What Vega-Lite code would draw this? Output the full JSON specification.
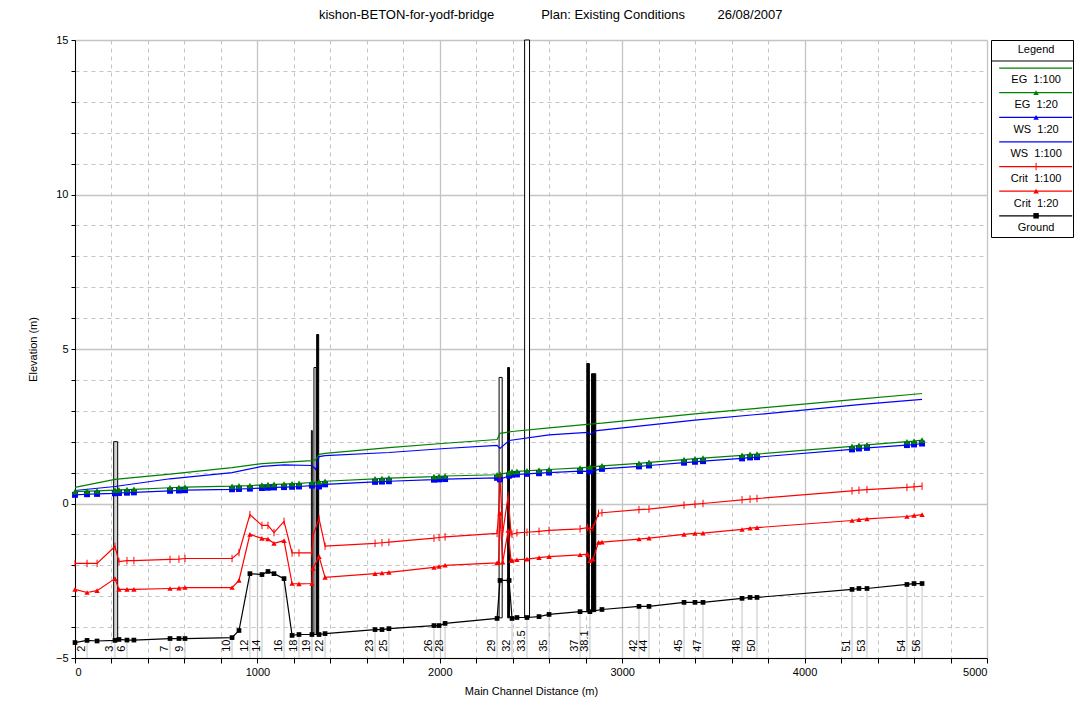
{
  "$schema": "https://vega.github.io/schema/vega-lite/v6.json",
  "padding": {"left": 27, "top": 9, "right": 3, "bottom": 5},
  "title": {"text": "kishon-BETON-for-yodf-bridge\u00a0\u00a0\u00a0\u00a0\u00a0\u00a0\u00a0\u00a0\u00a0\u00a0\u00a0\u00a0\u00a0Plan: Existing Conditions\u00a0\u00a0\u00a0\u00a0\u00a0\u00a0\u00a0\u00a0\u00a026/08/2007", "anchor": "middle", "offset": 12, "fontSize": 13, "fontWeight": "normal", "color": "black", "font": "Liberation Sans"},
  "config": {
    "font": "Liberation Sans",
    "view": {"stroke": null},
    "axis": {"domainColor": "black", "tickColor": "black", "labelColor": "black", "titleColor": "black", "labelFontSize": 11, "titleFontSize": 11, "titleFontWeight": "normal", "labelFont": "Liberation Sans", "titleFont": "Liberation Sans"}
  },
  "spacing": 4,
  "bounds": "flush",
  "resolve": {"scale": {"x": "independent", "y": "independent", "color": "independent", "shape": "independent", "fill": "independent", "size": "independent"}},
  "datasets": {
    "series": [
      {"dist":0,"series":"Ground","elev":-4.50},{"dist":66,"series":"Ground","elev":-4.43},{"dist":121,"series":"Ground","elev":-4.45},{"dist":219,"series":"Ground","elev":-4.43},{"dist":241,"series":"Ground","elev":-4.40},{"dist":285,"series":"Ground","elev":-4.42},{"dist":323,"series":"Ground","elev":-4.42},{"dist":521,"series":"Ground","elev":-4.37},{"dist":570,"series":"Ground","elev":-4.37},{"dist":603,"series":"Ground","elev":-4.37},{"dist":861,"series":"Ground","elev":-4.34},{"dist":899,"series":"Ground","elev":-4.11},{"dist":959,"series":"Ground","elev":-2.27},{"dist":1025,"series":"Ground","elev":-2.30},{"dist":1058,"series":"Ground","elev":-2.20},{"dist":1091,"series":"Ground","elev":-2.27},{"dist":1146,"series":"Ground","elev":-2.43},{"dist":1190,"series":"Ground","elev":-4.27},{"dist":1228,"series":"Ground","elev":-4.24},{"dist":1299,"series":"Ground","elev":-4.24},{"dist":1338,"series":"Ground","elev":-4.24},{"dist":1371,"series":"Ground","elev":-4.21},{"dist":1645,"series":"Ground","elev":-4.08},{"dist":1683,"series":"Ground","elev":-4.08},{"dist":1721,"series":"Ground","elev":-4.05},{"dist":1968,"series":"Ground","elev":-3.95},{"dist":1996,"series":"Ground","elev":-3.95},{"dist":2029,"series":"Ground","elev":-3.88},{"dist":2314,"series":"Ground","elev":-3.72},{"dist":2330,"series":"Ground","elev":-2.49},{"dist":2380,"series":"Ground","elev":-2.49},{"dist":2396,"series":"Ground","elev":-3.72},{"dist":2423,"series":"Ground","elev":-3.69},{"dist":2478,"series":"Ground","elev":-3.69},{"dist":2544,"series":"Ground","elev":-3.66},{"dist":2599,"series":"Ground","elev":-3.59},{"dist":2769,"series":"Ground","elev":-3.50},{"dist":2823,"series":"Ground","elev":-3.50},{"dist":2889,"series":"Ground","elev":-3.43},{"dist":3092,"series":"Ground","elev":-3.33},{"dist":3147,"series":"Ground","elev":-3.33},{"dist":3339,"series":"Ground","elev":-3.20},{"dist":3399,"series":"Ground","elev":-3.20},{"dist":3443,"series":"Ground","elev":-3.20},{"dist":3657,"series":"Ground","elev":-3.07},{"dist":3701,"series":"Ground","elev":-3.04},{"dist":3739,"series":"Ground","elev":-3.04},{"dist":4260,"series":"Ground","elev":-2.78},{"dist":4298,"series":"Ground","elev":-2.75},{"dist":4342,"series":"Ground","elev":-2.75},{"dist":4561,"series":"Ground","elev":-2.62},{"dist":4600,"series":"Ground","elev":-2.59},{"dist":4644,"series":"Ground","elev":-2.59},

      {"dist":0,"series":"EG 1:100","elev":0.52},{"dist":219,"series":"EG 1:100","elev":0.78},{"dist":521,"series":"EG 1:100","elev":0.95},{"dist":861,"series":"EG 1:100","elev":1.16},{"dist":1025,"series":"EG 1:100","elev":1.29},{"dist":1299,"series":"EG 1:100","elev":1.39},{"dist":1320,"series":"EG 1:100","elev":1.42},{"dist":1338,"series":"EG 1:100","elev":1.59},{"dist":1371,"series":"EG 1:100","elev":1.62},{"dist":1721,"series":"EG 1:100","elev":1.81},{"dist":2029,"series":"EG 1:100","elev":1.95},{"dist":2314,"series":"EG 1:100","elev":2.07},{"dist":2330,"series":"EG 1:100","elev":2.27},{"dist":2396,"series":"EG 1:100","elev":2.33},{"dist":2599,"series":"EG 1:100","elev":2.45},{"dist":2823,"series":"EG 1:100","elev":2.57},{"dist":2889,"series":"EG 1:100","elev":2.60},{"dist":3399,"series":"EG 1:100","elev":2.90},{"dist":3739,"series":"EG 1:100","elev":3.08},{"dist":4298,"series":"EG 1:100","elev":3.38},{"dist":4644,"series":"EG 1:100","elev":3.56},

      {"dist":0,"series":"WS 1:100","elev":0.42},{"dist":219,"series":"WS 1:100","elev":0.55},{"dist":521,"series":"WS 1:100","elev":0.80},{"dist":861,"series":"WS 1:100","elev":1.00},{"dist":1025,"series":"WS 1:100","elev":1.20},{"dist":1146,"series":"WS 1:100","elev":1.25},{"dist":1299,"series":"WS 1:100","elev":1.23},{"dist":1320,"series":"WS 1:100","elev":1.10},{"dist":1338,"series":"WS 1:100","elev":1.52},{"dist":1371,"series":"WS 1:100","elev":1.55},{"dist":1721,"series":"WS 1:100","elev":1.65},{"dist":2029,"series":"WS 1:100","elev":1.78},{"dist":2314,"series":"WS 1:100","elev":1.88},{"dist":2330,"series":"WS 1:100","elev":1.78},{"dist":2380,"series":"WS 1:100","elev":2.04},{"dist":2599,"series":"WS 1:100","elev":2.22},{"dist":2810,"series":"WS 1:100","elev":2.30},{"dist":2823,"series":"WS 1:100","elev":2.23},{"dist":2862,"series":"WS 1:100","elev":2.36},{"dist":3399,"series":"WS 1:100","elev":2.70},{"dist":3739,"series":"WS 1:100","elev":2.88},{"dist":4298,"series":"WS 1:100","elev":3.20},{"dist":4644,"series":"WS 1:100","elev":3.37},

      {"dist":0,"series":"WS 1:20","elev":0.28},{"dist":66,"series":"WS 1:20","elev":0.30},{"dist":121,"series":"WS 1:20","elev":0.31},{"dist":219,"series":"WS 1:20","elev":0.33},{"dist":241,"series":"WS 1:20","elev":0.34},{"dist":285,"series":"WS 1:20","elev":0.35},{"dist":323,"series":"WS 1:20","elev":0.36},{"dist":521,"series":"WS 1:20","elev":0.41},{"dist":570,"series":"WS 1:20","elev":0.42},{"dist":603,"series":"WS 1:20","elev":0.43},{"dist":861,"series":"WS 1:20","elev":0.46},{"dist":899,"series":"WS 1:20","elev":0.47},{"dist":959,"series":"WS 1:20","elev":0.48},{"dist":1025,"series":"WS 1:20","elev":0.50},{"dist":1058,"series":"WS 1:20","elev":0.51},{"dist":1091,"series":"WS 1:20","elev":0.52},{"dist":1146,"series":"WS 1:20","elev":0.53},{"dist":1190,"series":"WS 1:20","elev":0.54},{"dist":1228,"series":"WS 1:20","elev":0.55},{"dist":1299,"series":"WS 1:20","elev":0.58},{"dist":1338,"series":"WS 1:20","elev":0.55},{"dist":1371,"series":"WS 1:20","elev":0.62},{"dist":1645,"series":"WS 1:20","elev":0.70},{"dist":1683,"series":"WS 1:20","elev":0.71},{"dist":1721,"series":"WS 1:20","elev":0.72},{"dist":1968,"series":"WS 1:20","elev":0.77},{"dist":1996,"series":"WS 1:20","elev":0.78},{"dist":2029,"series":"WS 1:20","elev":0.79},{"dist":2314,"series":"WS 1:20","elev":0.83},{"dist":2330,"series":"WS 1:20","elev":0.78},{"dist":2380,"series":"WS 1:20","elev":0.90},{"dist":2396,"series":"WS 1:20","elev":0.93},{"dist":2423,"series":"WS 1:20","elev":0.94},{"dist":2478,"series":"WS 1:20","elev":0.96},{"dist":2544,"series":"WS 1:20","elev":0.98},{"dist":2599,"series":"WS 1:20","elev":1.00},{"dist":2769,"series":"WS 1:20","elev":1.05},{"dist":2823,"series":"WS 1:20","elev":1.04},{"dist":2889,"series":"WS 1:20","elev":1.12},{"dist":3092,"series":"WS 1:20","elev":1.20},{"dist":3147,"series":"WS 1:20","elev":1.23},{"dist":3339,"series":"WS 1:20","elev":1.32},{"dist":3399,"series":"WS 1:20","elev":1.35},{"dist":3443,"series":"WS 1:20","elev":1.37},{"dist":3657,"series":"WS 1:20","elev":1.46},{"dist":3701,"series":"WS 1:20","elev":1.49},{"dist":3739,"series":"WS 1:20","elev":1.50},{"dist":4260,"series":"WS 1:20","elev":1.75},{"dist":4298,"series":"WS 1:20","elev":1.78},{"dist":4342,"series":"WS 1:20","elev":1.80},{"dist":4561,"series":"WS 1:20","elev":1.89},{"dist":4600,"series":"WS 1:20","elev":1.91},{"dist":4644,"series":"WS 1:20","elev":1.94},

      {"dist":0,"series":"EG 1:20","elev":0.38},{"dist":66,"series":"EG 1:20","elev":0.40},{"dist":121,"series":"EG 1:20","elev":0.41},{"dist":219,"series":"EG 1:20","elev":0.43},{"dist":241,"series":"EG 1:20","elev":0.44},{"dist":285,"series":"EG 1:20","elev":0.45},{"dist":323,"series":"EG 1:20","elev":0.46},{"dist":521,"series":"EG 1:20","elev":0.51},{"dist":570,"series":"EG 1:20","elev":0.52},{"dist":603,"series":"EG 1:20","elev":0.53},{"dist":861,"series":"EG 1:20","elev":0.56},{"dist":899,"series":"EG 1:20","elev":0.57},{"dist":959,"series":"EG 1:20","elev":0.58},{"dist":1025,"series":"EG 1:20","elev":0.60},{"dist":1058,"series":"EG 1:20","elev":0.61},{"dist":1091,"series":"EG 1:20","elev":0.62},{"dist":1146,"series":"EG 1:20","elev":0.63},{"dist":1190,"series":"EG 1:20","elev":0.64},{"dist":1228,"series":"EG 1:20","elev":0.65},{"dist":1299,"series":"EG 1:20","elev":0.68},{"dist":1338,"series":"EG 1:20","elev":0.70},{"dist":1371,"series":"EG 1:20","elev":0.72},{"dist":1645,"series":"EG 1:20","elev":0.80},{"dist":1683,"series":"EG 1:20","elev":0.81},{"dist":1721,"series":"EG 1:20","elev":0.82},{"dist":1968,"series":"EG 1:20","elev":0.87},{"dist":1996,"series":"EG 1:20","elev":0.88},{"dist":2029,"series":"EG 1:20","elev":0.89},{"dist":2314,"series":"EG 1:20","elev":0.93},{"dist":2330,"series":"EG 1:20","elev":0.95},{"dist":2380,"series":"EG 1:20","elev":1.00},{"dist":2396,"series":"EG 1:20","elev":1.03},{"dist":2423,"series":"EG 1:20","elev":1.04},{"dist":2478,"series":"EG 1:20","elev":1.06},{"dist":2544,"series":"EG 1:20","elev":1.08},{"dist":2599,"series":"EG 1:20","elev":1.10},{"dist":2769,"series":"EG 1:20","elev":1.15},{"dist":2823,"series":"EG 1:20","elev":1.18},{"dist":2889,"series":"EG 1:20","elev":1.22},{"dist":3092,"series":"EG 1:20","elev":1.30},{"dist":3147,"series":"EG 1:20","elev":1.33},{"dist":3339,"series":"EG 1:20","elev":1.42},{"dist":3399,"series":"EG 1:20","elev":1.45},{"dist":3443,"series":"EG 1:20","elev":1.47},{"dist":3657,"series":"EG 1:20","elev":1.56},{"dist":3701,"series":"EG 1:20","elev":1.59},{"dist":3739,"series":"EG 1:20","elev":1.60},{"dist":4260,"series":"EG 1:20","elev":1.85},{"dist":4298,"series":"EG 1:20","elev":1.88},{"dist":4342,"series":"EG 1:20","elev":1.90},{"dist":4561,"series":"EG 1:20","elev":2.00},{"dist":4600,"series":"EG 1:20","elev":2.02},{"dist":4644,"series":"EG 1:20","elev":2.05},

      {"dist":0,"series":"Crit 1:100","elev":-1.94},{"dist":66,"series":"Crit 1:100","elev":-1.94},{"dist":121,"series":"Crit 1:100","elev":-1.94},{"dist":219,"series":"Crit 1:100","elev":-1.39},{"dist":241,"series":"Crit 1:100","elev":-1.88},{"dist":285,"series":"Crit 1:100","elev":-1.85},{"dist":323,"series":"Crit 1:100","elev":-1.85},{"dist":521,"series":"Crit 1:100","elev":-1.81},{"dist":570,"series":"Crit 1:100","elev":-1.80},{"dist":603,"series":"Crit 1:100","elev":-1.78},{"dist":861,"series":"Crit 1:100","elev":-1.78},{"dist":899,"series":"Crit 1:100","elev":-1.59},{"dist":959,"series":"Crit 1:100","elev":-0.36},{"dist":1025,"series":"Crit 1:100","elev":-0.71},{"dist":1058,"series":"Crit 1:100","elev":-0.71},{"dist":1091,"series":"Crit 1:100","elev":-0.94},{"dist":1146,"series":"Crit 1:100","elev":-0.58},{"dist":1190,"series":"Crit 1:100","elev":-1.60},{"dist":1228,"series":"Crit 1:100","elev":-1.60},{"dist":1299,"series":"Crit 1:100","elev":-1.60},{"dist":1305,"series":"Crit 1:100","elev":-1.04},{"dist":1338,"series":"Crit 1:100","elev":-0.49},{"dist":1371,"series":"Crit 1:100","elev":-1.38},{"dist":1645,"series":"Crit 1:100","elev":-1.29},{"dist":1683,"series":"Crit 1:100","elev":-1.27},{"dist":1721,"series":"Crit 1:100","elev":-1.25},{"dist":1968,"series":"Crit 1:100","elev":-1.12},{"dist":1996,"series":"Crit 1:100","elev":-1.10},{"dist":2029,"series":"Crit 1:100","elev":-1.08},{"dist":2314,"series":"Crit 1:100","elev":-0.97},{"dist":2322,"series":"Crit 1:100","elev":-0.30},{"dist":2330,"series":"Crit 1:100","elev":0.84},{"dist":2345,"series":"Crit 1:100","elev":-0.95},{"dist":2375,"series":"Crit 1:100","elev":0.26},{"dist":2390,"series":"Crit 1:100","elev":-0.95},{"dist":2396,"series":"Crit 1:100","elev":-1.00},{"dist":2423,"series":"Crit 1:100","elev":-0.95},{"dist":2478,"series":"Crit 1:100","elev":-0.93},{"dist":2544,"series":"Crit 1:100","elev":-0.90},{"dist":2599,"series":"Crit 1:100","elev":-0.87},{"dist":2769,"series":"Crit 1:100","elev":-0.82},{"dist":2810,"series":"Crit 1:100","elev":-0.78},{"dist":2823,"series":"Crit 1:100","elev":-0.85},{"dist":2840,"series":"Crit 1:100","elev":-0.78},{"dist":2870,"series":"Crit 1:100","elev":-0.32},{"dist":2889,"series":"Crit 1:100","elev":-0.30},{"dist":3092,"series":"Crit 1:100","elev":-0.20},{"dist":3147,"series":"Crit 1:100","elev":-0.18},{"dist":3339,"series":"Crit 1:100","elev":-0.05},{"dist":3399,"series":"Crit 1:100","elev":-0.02},{"dist":3443,"series":"Crit 1:100","elev":0.00},{"dist":3657,"series":"Crit 1:100","elev":0.12},{"dist":3701,"series":"Crit 1:100","elev":0.14},{"dist":3739,"series":"Crit 1:100","elev":0.16},{"dist":4260,"series":"Crit 1:100","elev":0.41},{"dist":4298,"series":"Crit 1:100","elev":0.43},{"dist":4342,"series":"Crit 1:100","elev":0.45},{"dist":4561,"series":"Crit 1:100","elev":0.52},{"dist":4600,"series":"Crit 1:100","elev":0.54},{"dist":4644,"series":"Crit 1:100","elev":0.56},

      {"dist":0,"series":"Crit 1:20","elev":-2.78},{"dist":66,"series":"Crit 1:20","elev":-2.88},{"dist":121,"series":"Crit 1:20","elev":-2.82},{"dist":219,"series":"Crit 1:20","elev":-2.43},{"dist":241,"series":"Crit 1:20","elev":-2.78},{"dist":285,"series":"Crit 1:20","elev":-2.78},{"dist":323,"series":"Crit 1:20","elev":-2.78},{"dist":521,"series":"Crit 1:20","elev":-2.75},{"dist":570,"series":"Crit 1:20","elev":-2.74},{"dist":603,"series":"Crit 1:20","elev":-2.72},{"dist":861,"series":"Crit 1:20","elev":-2.72},{"dist":899,"series":"Crit 1:20","elev":-2.49},{"dist":959,"series":"Crit 1:20","elev":-1.00},{"dist":1025,"series":"Crit 1:20","elev":-1.13},{"dist":1058,"series":"Crit 1:20","elev":-1.15},{"dist":1091,"series":"Crit 1:20","elev":-1.29},{"dist":1146,"series":"Crit 1:20","elev":-1.20},{"dist":1190,"series":"Crit 1:20","elev":-2.59},{"dist":1228,"series":"Crit 1:20","elev":-2.60},{"dist":1299,"series":"Crit 1:20","elev":-2.59},{"dist":1305,"series":"Crit 1:20","elev":-2.10},{"dist":1338,"series":"Crit 1:20","elev":-1.72},{"dist":1371,"series":"Crit 1:20","elev":-2.39},{"dist":1645,"series":"Crit 1:20","elev":-2.27},{"dist":1683,"series":"Crit 1:20","elev":-2.25},{"dist":1721,"series":"Crit 1:20","elev":-2.23},{"dist":1968,"series":"Crit 1:20","elev":-2.07},{"dist":1996,"series":"Crit 1:20","elev":-2.04},{"dist":2029,"series":"Crit 1:20","elev":-2.00},{"dist":2314,"series":"Crit 1:20","elev":-1.92},{"dist":2322,"series":"Crit 1:20","elev":-1.90},{"dist":2330,"series":"Crit 1:20","elev":-0.32},{"dist":2345,"series":"Crit 1:20","elev":-1.90},{"dist":2375,"series":"Crit 1:20","elev":-0.87},{"dist":2390,"series":"Crit 1:20","elev":-1.84},{"dist":2396,"series":"Crit 1:20","elev":-1.84},{"dist":2423,"series":"Crit 1:20","elev":-1.82},{"dist":2478,"series":"Crit 1:20","elev":-1.80},{"dist":2544,"series":"Crit 1:20","elev":-1.75},{"dist":2599,"series":"Crit 1:20","elev":-1.72},{"dist":2769,"series":"Crit 1:20","elev":-1.66},{"dist":2810,"series":"Crit 1:20","elev":-1.64},{"dist":2823,"series":"Crit 1:20","elev":-1.85},{"dist":2840,"series":"Crit 1:20","elev":-1.80},{"dist":2870,"series":"Crit 1:20","elev":-1.26},{"dist":2889,"series":"Crit 1:20","elev":-1.25},{"dist":3092,"series":"Crit 1:20","elev":-1.15},{"dist":3147,"series":"Crit 1:20","elev":-1.12},{"dist":3339,"series":"Crit 1:20","elev":-1.00},{"dist":3399,"series":"Crit 1:20","elev":-0.97},{"dist":3443,"series":"Crit 1:20","elev":-0.96},{"dist":3657,"series":"Crit 1:20","elev":-0.84},{"dist":3701,"series":"Crit 1:20","elev":-0.80},{"dist":3739,"series":"Crit 1:20","elev":-0.78},{"dist":4260,"series":"Crit 1:20","elev":-0.55},{"dist":4298,"series":"Crit 1:20","elev":-0.52},{"dist":4342,"series":"Crit 1:20","elev":-0.50},{"dist":4561,"series":"Crit 1:20","elev":-0.42},{"dist":4600,"series":"Crit 1:20","elev":-0.39},{"dist":4644,"series":"Crit 1:20","elev":-0.36}
    ],
    "structures": [
      {"dist":212,"dist2":234,"elev":2.0,"base":-4.43,"kind":"gray"},
      {"dist":1296,"dist2":1301,"elev":2.36,"base":-4.24,"kind":"open"},
      {"dist":1310,"dist2":1322,"elev":4.4,"base":-4.24,"kind":"open"},
      {"dist":1325,"dist2":1336,"elev":5.47,"base":-4.24,"kind":"solid"},
      {"dist":2325,"dist2":2342,"elev":4.08,"base":-3.7,"kind":"open"},
      {"dist":2372,"dist2":2382,"elev":4.4,"base":-3.7,"kind":"solid"},
      {"dist":2465,"dist2":2492,"elev":15,"base":-3.69,"kind":"open"},
      {"dist":2806,"dist2":2820,"elev":4.53,"base":-3.5,"kind":"solid"},
      {"dist":2832,"dist2":2855,"elev":4.2,"base":-3.5,"kind":"solid"}
    ],
    "stations": [
      {"label":"2","dist":66,"elev":-4.43},{"label":"3","dist":219,"elev":-4.43},{"label":"6","dist":285,"elev":-4.42},{"label":"7","dist":521,"elev":-4.37},{"label":"9","dist":603,"elev":-4.37},{"label":"10","dist":861,"elev":-4.34},{"label":"12","dist":959,"elev":-2.27},{"label":"14","dist":1025,"elev":-2.30},{"label":"16","dist":1146,"elev":-2.43},{"label":"18","dist":1228,"elev":-4.24},{"label":"19","dist":1299,"elev":-4.24},{"label":"22","dist":1371,"elev":-4.21},{"label":"23","dist":1645,"elev":-4.08},{"label":"25","dist":1721,"elev":-4.05},{"label":"26","dist":1968,"elev":-3.95},{"label":"28","dist":2029,"elev":-3.88},{"label":"29","dist":2314,"elev":-3.72},{"label":"32","dist":2396,"elev":-3.72},{"label":"33.5","dist":2478,"elev":-3.69},{"label":"35","dist":2599,"elev":-3.59},{"label":"37","dist":2769,"elev":-3.50},{"label":"38.1","dist":2823,"elev":-3.50},{"label":"42","dist":3092,"elev":-3.33},{"label":"44","dist":3147,"elev":-3.33},{"label":"45","dist":3339,"elev":-3.20},{"label":"47","dist":3443,"elev":-3.20},{"label":"48","dist":3657,"elev":-3.07},{"label":"50","dist":3739,"elev":-3.04},{"label":"51","dist":4260,"elev":-2.78},{"label":"53","dist":4342,"elev":-2.75},{"label":"54","dist":4561,"elev":-2.62},{"label":"56","dist":4644,"elev":-2.59}
    ],
    "legend": [
      {"item":"Legend"},{"item":"EG\u00a0\u00a01:100"},{"item":"EG\u00a0\u00a01:20"},{"item":"WS\u00a0\u00a01:20"},{"item":"WS\u00a0\u00a01:100"},{"item":"Crit\u00a0\u00a01:100"},{"item":"Crit\u00a0\u00a01:20"},{"item":"Ground"}
    ]
  },
  "hconcat": [
    {
      "width": 912,
      "height": 618,
      "resolve": {"axis": {"x": "independent", "y": "independent"}},
      "layer": [
        {
          "data": {"name": "stations"},
          "mark": {"type": "rule", "color": "#c4c4c4", "strokeWidth": 1},
          "encoding": {
            "x": {"field": "dist", "type": "quantitative", "scale": {"domain": [0, 5000], "nice": false},
              "axis": {"orient": "bottom", "title": null, "labels": false, "domain": false, "values": [200,400,600,800,1200,1400,1600,1800,2200,2400,2600,2800,3200,3400,3600,3800,4200,4400,4600,4800], "grid": true, "gridColor": "#c4c4c4", "gridDash": [4, 4], "tickSize": 5}},
            "y": {"field": "elev", "type": "quantitative", "scale": {"domain": [-5, 15], "nice": false},
              "axis": {"orient": "left", "title": null, "labels": false, "domain": false, "values": [-4,-3,-2,-1,1,2,3,4,6,7,8,9,11,12,13,14], "grid": true, "gridColor": "#c4c4c4", "gridDash": [4, 4], "tickSize": 4}},
            "y2": {"datum": -5}
          }
        },
        {
          "data": {"name": "structures"},
          "mark": {"type": "rect", "stroke": "black", "strokeWidth": 1},
          "encoding": {
            "x": {"field": "dist", "type": "quantitative", "axis": null},
            "x2": {"field": "dist2"},
            "y": {"field": "elev", "type": "quantitative", "axis": null},
            "y2": {"field": "base"},
            "fill": {"field": "kind", "type": "nominal", "scale": {"domain": ["solid", "open", "gray"], "range": ["black", "white", "#d4d4d4"]}, "legend": null}
          }
        },
        {
          "data": {"name": "series"},
          "mark": {"type": "line", "strokeWidth": 1.2},
          "encoding": {
            "x": {"field": "dist", "type": "quantitative",
              "axis": {"orient": "bottom", "title": "Main Channel Distance (m)", "values": [0,1000,2000,3000,4000,5000], "format": "d", "grid": true, "gridColor": "#c4c4c4", "gridWidth": 1.3, "tickSize": 5, "labelPadding": 3, "titlePadding": 8}},
            "y": {"field": "elev", "type": "quantitative",
              "axis": {"orient": "left", "title": "Elevation (m)", "values": [-5,0,5,10,15], "grid": true, "gridColor": "#c4c4c4", "gridWidth": 1.3, "tickSize": 4, "labelPadding": 3, "titlePadding": 17}},
            "color": {"field": "series", "type": "nominal", "scale": {"domain": ["EG 1:100", "EG 1:20", "WS 1:20", "WS 1:100", "Crit 1:100", "Crit 1:20", "Ground"], "range": ["#008000", "#008000", "#0000ff", "#0000ff", "#ff0000", "#ff0000", "#000000"]}, "legend": null}
          }
        },
        {
          "data": {"name": "series"},
          "transform": [{"filter": {"field": "series", "oneOf": ["EG 1:20", "WS 1:20", "Crit 1:20", "Ground"]}}],
          "mark": {"type": "point", "filled": true, "opacity": 1},
          "encoding": {
            "x": {"field": "dist", "type": "quantitative", "axis": null},
            "y": {"field": "elev", "type": "quantitative", "axis": null},
            "color": {"field": "series", "type": "nominal", "legend": null},
            "shape": {"field": "series", "type": "nominal", "scale": {"domain": ["EG 1:20", "WS 1:20", "Crit 1:20", "Ground"], "range": ["triangle-up", "square", "triangle-up", "square"]}, "legend": null},
            "size": {"field": "series", "type": "nominal", "scale": {"domain": ["EG 1:20", "WS 1:20", "Crit 1:20", "Ground"], "range": [42, 22, 40, 36]}, "legend": null}
          }
        },
        {
          "data": {"name": "series"},
          "transform": [{"filter": {"field": "series", "equal": "Crit 1:100"}}],
          "mark": {"type": "point", "filled": false, "opacity": 1, "size": 56, "strokeWidth": 1, "shape": "M0,-1L0,1"},
          "encoding": {
            "x": {"field": "dist", "type": "quantitative", "axis": null},
            "y": {"field": "elev", "type": "quantitative", "axis": null},
            "color": {"field": "series", "type": "nominal", "legend": null}
          }
        },
        {
          "data": {"name": "stations"},
          "mark": {"type": "text", "angle": 270, "align": "left", "baseline": "bottom", "fontSize": 11, "color": "black"},
          "encoding": {
            "x": {"field": "dist", "type": "quantitative", "axis": null},
            "y": {"datum": -4.8, "type": "quantitative", "axis": null},
            "text": {"field": "label"}
          }
        }
      ]
    },
    {
      "width": 82,
      "height": 197,
      "view": {"stroke": "black", "strokeWidth": 1},
      "data": {"name": "legend"},
      "encoding": {
        "y": {"field": "item", "type": "nominal", "scale": {"type": "point", "padding": 0.5, "domain": ["Legend", "EG\u00a0\u00a01:100", "EG\u00a0\u00a01:20", "WS\u00a0\u00a01:20", "WS\u00a0\u00a01:100", "Crit\u00a0\u00a01:100", "Crit\u00a0\u00a01:20", "Ground"]}, "axis": null}
      },
      "layer": [
        {
          "transform": [{"filter": {"field": "item", "equal": "Legend"}}],
          "mark": {"type": "text", "fontSize": 11, "color": "black", "yOffset": -2},
          "encoding": {
            "x": {"datum": 0.55, "type": "quantitative", "scale": {"domain": [0, 1], "nice": false}, "axis": null},
            "text": {"field": "item"}
          }
        },
        {
          "transform": [{"filter": {"field": "item", "equal": "Legend"}}],
          "mark": {"type": "rule", "color": "black", "strokeWidth": 1, "yOffset": 8.7},
          "encoding": {
            "x": {"datum": 0, "type": "quantitative"},
            "x2": {"datum": 1}
          }
        },
        {
          "transform": [{"filter": {"not": {"field": "item", "equal": "Legend"}}}],
          "mark": {"type": "rule", "strokeWidth": 1.2, "yOffset": -8.9},
          "encoding": {
            "x": {"datum": 0.1, "type": "quantitative"},
            "x2": {"datum": 0.99},
            "color": {"field": "item", "type": "nominal", "scale": {"domain": ["EG\u00a0\u00a01:100", "EG\u00a0\u00a01:20", "WS\u00a0\u00a01:20", "WS\u00a0\u00a01:100", "Crit\u00a0\u00a01:100", "Crit\u00a0\u00a01:20", "Ground"], "range": ["#008000", "#008000", "#0000ff", "#0000ff", "#ff0000", "#ff0000", "#000000"]}, "legend": null}
          }
        },
        {
          "transform": [{"filter": {"field": "item", "oneOf": ["EG\u00a0\u00a01:20", "WS\u00a0\u00a01:20", "Crit\u00a0\u00a01:20", "Ground"]}}],
          "mark": {"type": "point", "filled": true, "opacity": 1, "size": 30, "yOffset": -8.9},
          "encoding": {
            "x": {"datum": 0.55, "type": "quantitative"},
            "color": {"field": "item", "type": "nominal", "legend": null},
            "shape": {"field": "item", "type": "nominal", "scale": {"domain": ["EG\u00a0\u00a01:20", "WS\u00a0\u00a01:20", "Crit\u00a0\u00a01:20", "Ground"], "range": ["triangle-up", "triangle-up", "triangle-up", "square"]}, "legend": null}
          }
        },
        {
          "transform": [{"filter": {"field": "item", "equal": "Crit\u00a0\u00a01:100"}}],
          "mark": {"type": "point", "filled": false, "opacity": 1, "size": 56, "strokeWidth": 1, "shape": "M0,-1L0,1", "yOffset": -8.9},
          "encoding": {
            "x": {"datum": 0.55, "type": "quantitative"},
            "color": {"field": "item", "type": "nominal", "legend": null}
          }
        },
        {
          "transform": [{"filter": {"not": {"field": "item", "equal": "Legend"}}}],
          "mark": {"type": "text", "fontSize": 11, "color": "black", "yOffset": 3.5},
          "encoding": {
            "x": {"datum": 0.55, "type": "quantitative"},
            "text": {"field": "item"}
          }
        }
      ]
    }
  ]
}
